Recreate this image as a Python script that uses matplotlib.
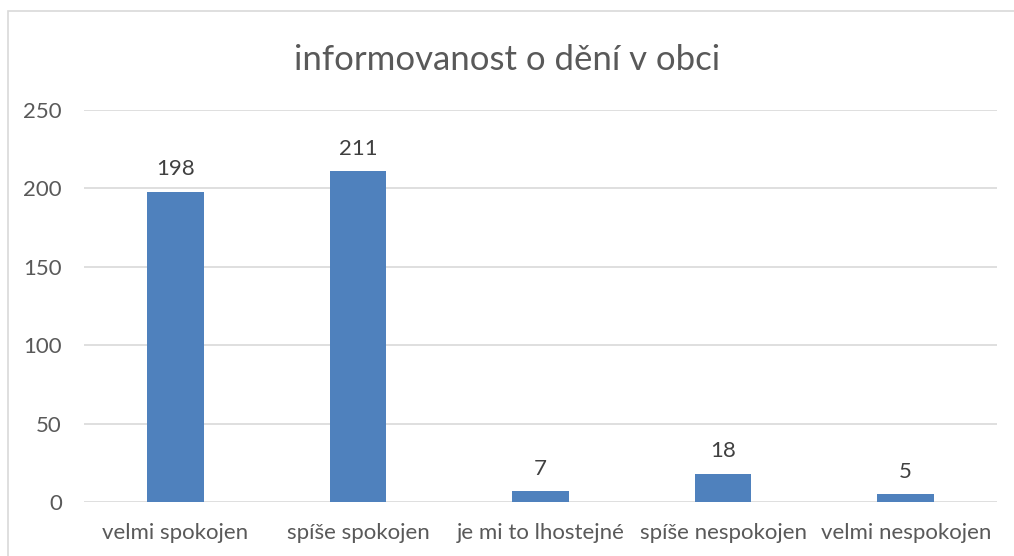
import matplotlib.pyplot as plt
from matplotlib.patches import Rectangle

categories = ['velmi spokojen', 'spíše spokojen', 'je mi to lhostejné',
              'spíše nespokojen', 'velmi nespokojen']
counts = [198, 211, 7, 18, 5]
yticks = [0, 50, 100, 150, 200, 250]

plt.rcParams['font.family'] = ['Lato', 'DejaVu Sans']

fig = plt.figure(figsize=(10.14, 5.56), dpi=100)
ax = fig.add_axes([84 / 1014, 1 - 502 / 556, 913 / 1014, 392 / 556])

x = range(len(categories))
bars = ax.bar(x, counts, width=0.31, color='#4F81BD', zorder=3)
for b, v in zip(bars, counts):
    ax.annotate(str(v), (b.get_x() + b.get_width() / 2, v), xytext=(0, 9),
                textcoords='offset points', ha='center', va='bottom',
                fontsize=16, color='#404040')

ax.set_xlim(-0.5, len(categories) - 0.5)
ax.set_ylim(0, 250)
ax.set_yticks(yticks)
ax.set_xticks(list(x))
ax.set_xticklabels(categories)
ax.tick_params(axis='both', length=0, labelsize=16, colors='#595959')
ax.tick_params(axis='y', pad=16)
ax.tick_params(axis='x', pad=15)
ax.grid(axis='y', color='#D9D9D9', linewidth=1.2, zorder=0)
for s in ax.spines.values():
    s.set_visible(False)

fig.text(0.5, 1 - 60 / 556, 'informovanost o dění v obci', ha='center',
         va='center', fontsize=25, color='#595959')

# chart border (top and left only visible)
fig.add_artist(Rectangle((8 / 1014, -0.1), 1.1, 1 - 11 / 556 + 0.1,
                         transform=fig.transFigure, fill=False,
                         edgecolor='#D9D9D9', linewidth=1.2))

fig.savefig('out.png', dpi=100)
